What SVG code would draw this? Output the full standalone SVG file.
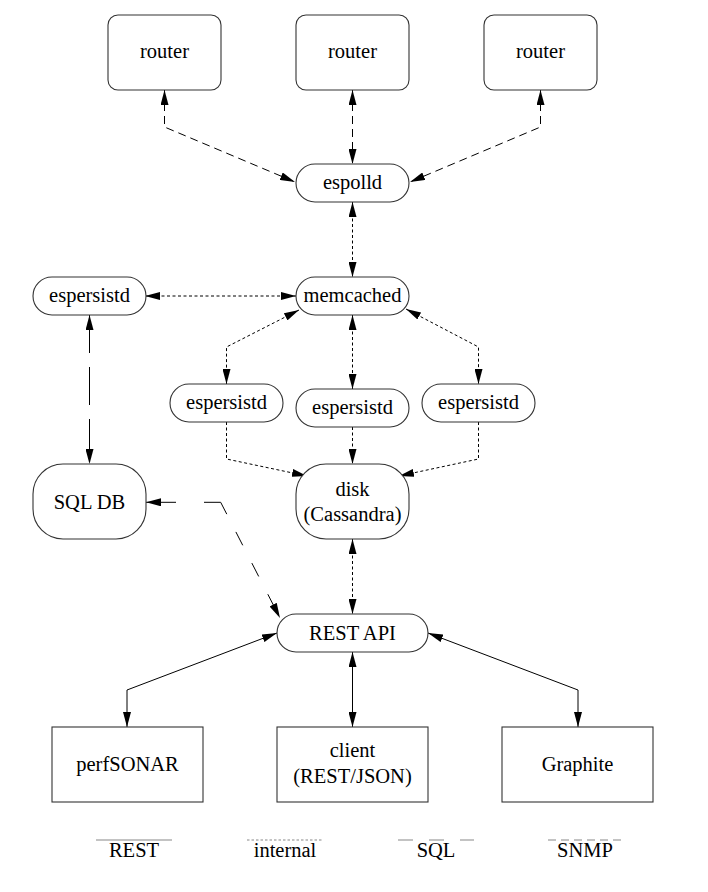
<svg xmlns="http://www.w3.org/2000/svg" width="708" height="892" viewBox="0 0 708 892">
<style>
.box{fill:#fff;stroke:#333;stroke-width:1.1}
.t{font-family:"Liberation Serif","Times New Roman",serif;font-size:20.5px;fill:#000;text-anchor:middle}
.c{fill:none;stroke:#000;stroke-width:1}
.rest{}
.int{stroke-dasharray:3 2.5}
.sql{stroke-dasharray:30 28 30 20 15 20 15 20 15 20 40}
.sqlv{stroke-dasharray:38 14}
.snmp{stroke-dasharray:8 5}
.a2{marker-start:url(#ah);marker-end:url(#ah)}
.a1{marker-end:url(#ah)}
.leg{fill:none;stroke:#888;stroke-width:1.2}
</style>
<defs>
<marker id="ah" markerUnits="userSpaceOnUse" markerWidth="15" markerHeight="8" refX="15" refY="4" orient="auto-start-reverse" viewBox="0 0 15 8">
<path d="M0,0 L15,4 L0,8 z" fill="#000"/>
</marker>
</defs>
<rect width="708" height="892" fill="#fff"/>
<g id="connectors">
<path class="c snmp a2" d="M164.5,90 L164.5,127 L295,182"/>
<path class="c snmp a2" d="M352.5,90 L352.5,164"/>
<path class="c snmp a2" d="M540.5,90 L540.5,127 L410,182"/>
<path class="c int a2" d="M352.5,202 L352.5,277"/>
<path class="c int a2" d="M145,296 L296,296"/>
<path class="c int a2" d="M299,310 L226.5,347 L226.5,384"/>
<path class="c int a2" d="M352.5,315 L352.5,389"/>
<path class="c int a2" d="M406,309 L478.5,347 L478.5,384"/>
<path class="c int a1" d="M226.5,422 L226.5,459 L307,476"/>
<path class="c int a1" d="M352.5,427 L352.5,464"/>
<path class="c int a1" d="M478.5,422 L478.5,459 L399,476"/>
<path class="c sqlv a2" d="M89.5,315 L89.5,464"/>
<path class="c sql a2" d="M146,502.3 L220.7,502.3 L280,618"/>
<path class="c int a2" d="M352.5,539 L352.5,614"/>
<path class="c rest a2" d="M277,633 L127,690 L127,727"/>
<path class="c rest a2" d="M352.5,652 L352.5,727"/>
<path class="c rest a2" d="M428,633 L578,690 L578,727"/>
</g>
<g id="router1"><rect class="box" x="108" y="15" width="113" height="75" rx="10"/><text class="t" x="164.5" y="58">router</text></g>
<g id="router2"><rect class="box" x="296" y="15" width="113" height="75" rx="10"/><text class="t" x="352.5" y="58">router</text></g>
<g id="router3"><rect class="box" x="484" y="15" width="113" height="75" rx="10"/><text class="t" x="540.5" y="58">router</text></g>
<g id="espolld"><rect class="box" x="296" y="164" width="113" height="38" rx="19"/><text class="t" x="352.5" y="189">espolld</text></g>
<g id="espersistd-left"><rect class="box" x="33" y="277" width="113" height="38" rx="19"/><text class="t" x="89.5" y="302">espersistd</text></g>
<g id="memcached"><rect class="box" x="296" y="277" width="113" height="38" rx="19"/><text class="t" x="352.5" y="302">memcached</text></g>
<g id="espersistd-1"><rect class="box" x="170" y="384" width="113" height="38" rx="19"/><text class="t" x="226.5" y="409">espersistd</text></g>
<g id="espersistd-2"><rect class="box" x="296" y="389" width="113" height="38" rx="19"/><text class="t" x="352.5" y="414">espersistd</text></g>
<g id="espersistd-3"><rect class="box" x="422" y="384" width="113" height="38" rx="19"/><text class="t" x="478.5" y="409">espersistd</text></g>
<g id="sqldb"><rect class="box" x="33" y="464" width="113" height="75" rx="30" ry="30"/><text class="t" x="89.5" y="509">SQL DB</text></g>
<g id="disk"><rect class="box" x="296" y="464" width="113" height="75" rx="30" ry="30"/><text class="t" x="352.5" y="496">disk</text><text class="t" x="352.5" y="521">(Cassandra)</text></g>
<g id="restapi"><rect class="box" x="277" y="614" width="151" height="38" rx="19"/><text class="t" x="352.5" y="640">REST API</text></g>
<g id="perfsonar"><rect class="box" x="52" y="727" width="151" height="75"/><text class="t" x="127.5" y="771">perfSONAR</text></g>
<g id="client"><rect class="box" x="277" y="727" width="151" height="75"/><text class="t" x="352.5" y="757">client</text><text class="t" x="352.5" y="783">(REST/JSON)</text></g>
<g id="graphite"><rect class="box" x="502" y="727" width="151" height="75"/><text class="t" x="577.5" y="771">Graphite</text></g>
<g id="legend">
<line class="leg" x1="96" y1="840" x2="172" y2="840"/>
<text class="t" x="134" y="857">REST</text>
<line class="leg" x1="247" y1="840" x2="323" y2="840" stroke-dasharray="2.5 2"/>
<text class="t" x="285" y="857">internal</text>
<line class="leg" x1="398" y1="840" x2="474" y2="840" stroke-dasharray="15 16"/>
<text class="t" x="436" y="857">SQL</text>
<line class="leg" x1="548" y1="840" x2="624" y2="840" stroke-dasharray="8 5"/>
<text class="t" x="585" y="857">SNMP</text>
</g>
</svg>
